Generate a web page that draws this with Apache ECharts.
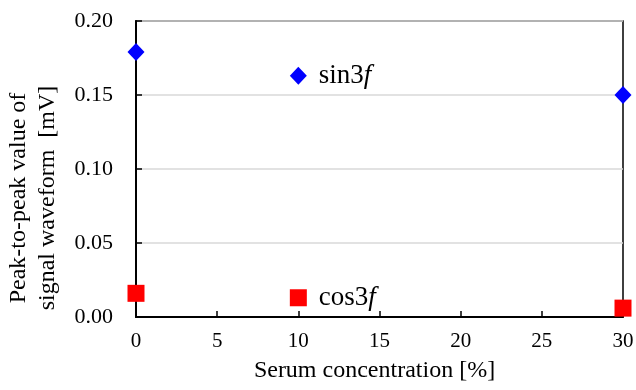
<!DOCTYPE html>
<html><head><meta charset="utf-8">
<script src="https://cdn.jsdelivr.net/npm/echarts@6/dist/echarts.min.js"></script>
<style>html,body{margin:0;padding:0;background:#fff}#c{width:636px;height:390px}</style>
</head><body><div id="c"></div>
<script>
var serum = [0, 10, 30];
var sin3f = [0.179, 0.163, 0.150];
var cos3f = [0.016, 0.013, 0.006];
var xTicks = [0, 5, 10, 15, 20, 25, 30];
var yTicks = [0.00, 0.05, 0.10, 0.15, 0.20];
var seriesNames = ['sin3', 'cos3'];

var F = 'Liberation Serif, Times New Roman, serif';
function pts(ys){ return serum.map(function(x,i){ return [x, ys[i]]; }); }
function lbl(name){
  return {
    show: true, position: 'right', distance: 12, color: '#000',
    formatter: function(p){ return p.dataIndex === 1 ? '{n|' + name + '}{i|f}' : ''; },
    rich: {
      n: {fontFamily: F, fontSize: 27, color: '#000'},
      i: {fontFamily: F, fontSize: 27, fontStyle: 'italic', color: '#000'}
    }
  };
}
var chart = echarts.init(document.getElementById('c'), null, {renderer: 'canvas'});
chart.setOption({
  animation: false,
  grid: {left: 136, right: 13, top: 21, bottom: 73, show: true, borderColor: '#000', borderWidth: 1.5,
         containLabel: false, outerBoundsMode: 'none'},
  xAxis: {
    type: 'value', min: xTicks[0], max: xTicks[xTicks.length-1], interval: 5,
    name: 'Serum concentration [%]', nameLocation: 'middle', nameGap: 42,
    nameTextStyle: {fontFamily: F, fontSize: 24, color: '#000', padding: [0, 10, 0, 0]},
    axisLine: {lineStyle: {color: '#000', width: 2}},
    axisTick: {inside: true, length: 6, lineStyle: {color: '#000', width: 1.5}},
    axisLabel: {fontFamily: F, fontSize: 21, color: '#000', margin: 14},
    splitLine: {show: false}
  },
  yAxis: {
    type: 'value', min: yTicks[0], max: yTicks[yTicks.length-1], interval: 0.05,
    name: 'Peak-to-peak value of\nsignal waveform  [mV]', nameLocation: 'middle', nameGap: 74,
    nameTextStyle: {fontFamily: F, fontSize: 24, color: '#000', lineHeight: 29, padding: [0, 58, 0, 0]},
    axisLine: {lineStyle: {color: '#000', width: 2}},
    axisTick: {inside: true, length: 6, lineStyle: {color: '#000', width: 1.5}},
    axisLabel: {fontFamily: F, fontSize: 22, color: '#000', margin: 23, formatter: function(v){ return v.toFixed(2); }},
    splitLine: {show: true, lineStyle: {color: '#d9d9d9', width: 1.5}}
  },
  series: [
    {name: seriesNames[0], type: 'scatter', symbol: 'diamond', symbolSize: [17, 18],
     itemStyle: {color: '#0000ff', opacity: 1}, data: pts(sin3f), label: lbl(seriesNames[0])},
    {name: seriesNames[1], type: 'scatter', symbol: 'rect', symbolSize: 17,
     itemStyle: {color: '#ff0000', opacity: 1}, data: pts(cos3f), label: lbl(seriesNames[1])}
  ]
});
</script></body></html>
